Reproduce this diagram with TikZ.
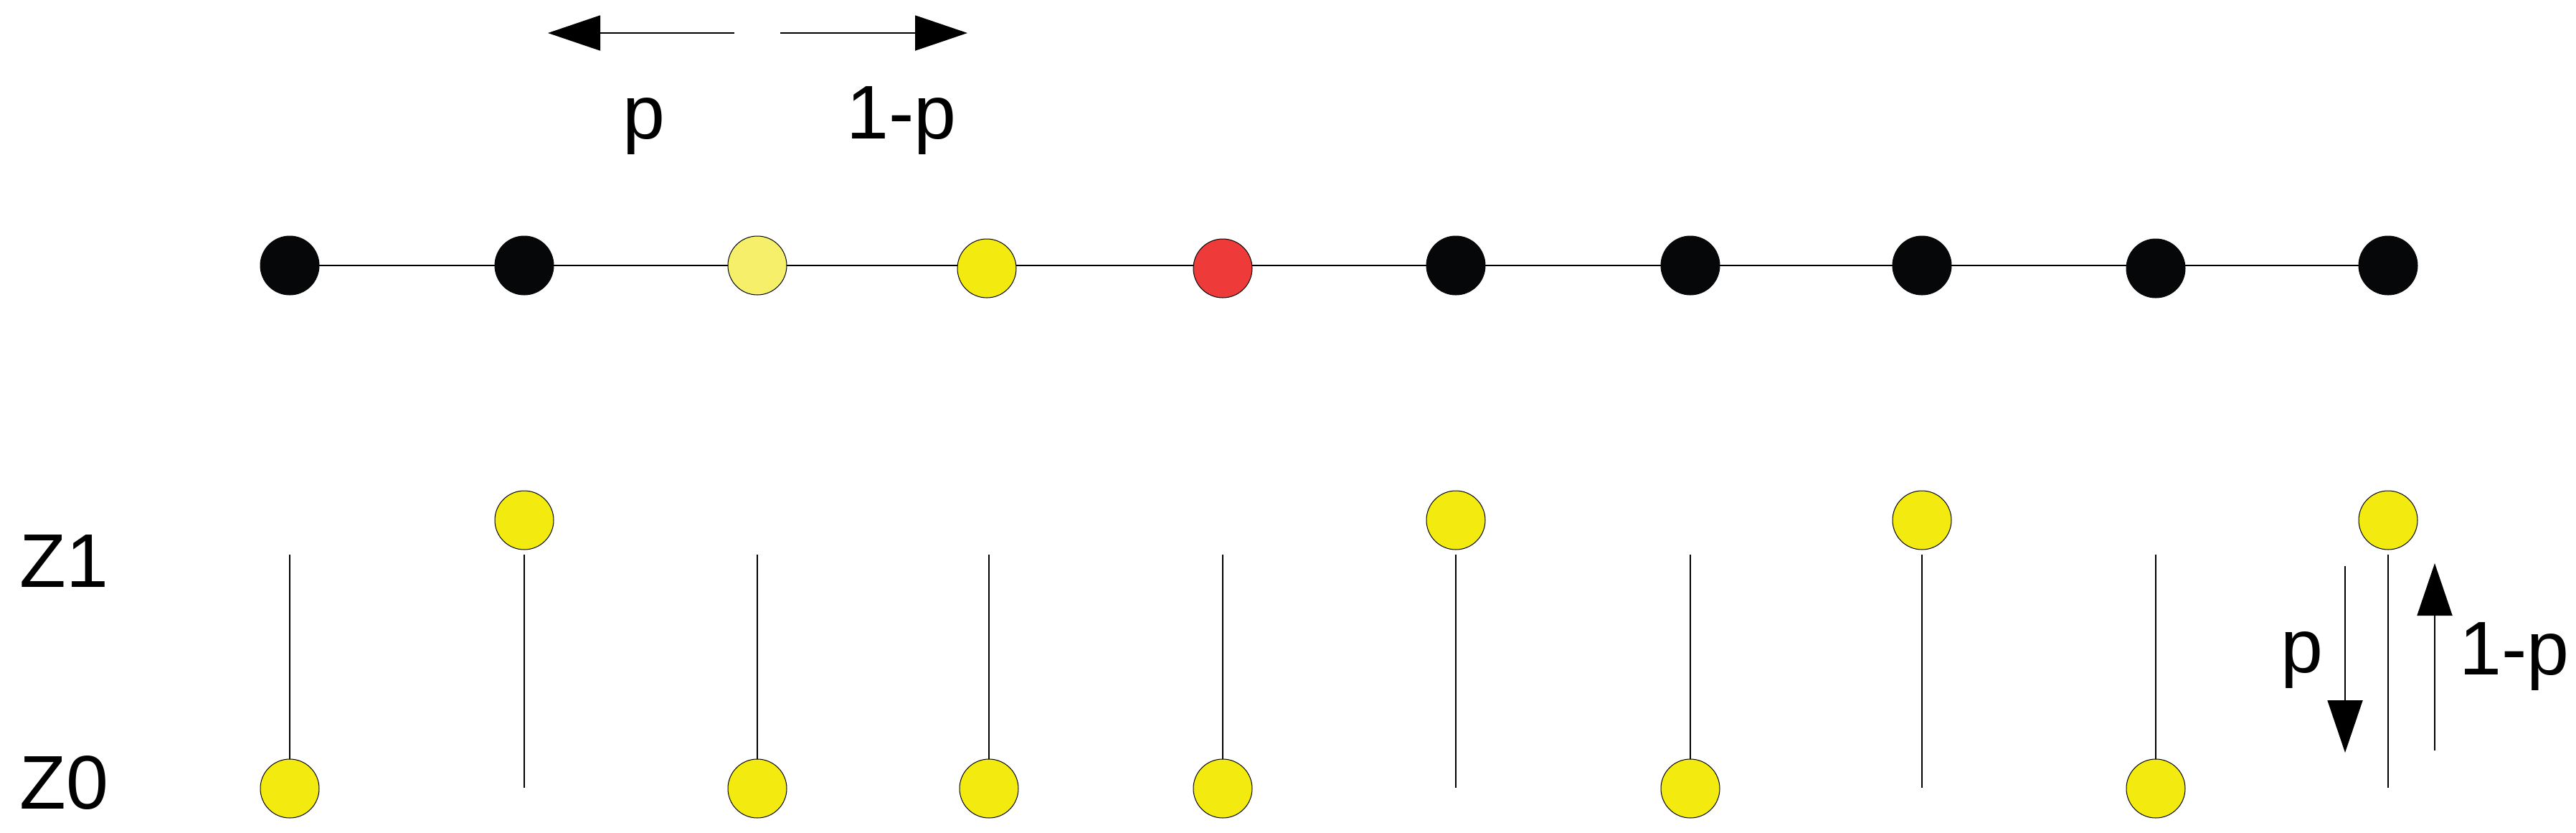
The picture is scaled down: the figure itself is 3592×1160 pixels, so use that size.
\documentclass[tikz,border=0pt]{standalone}
\usepackage{fontspec}
\setmainfont{Liberation Sans}
\usetikzlibrary{arrows.meta}
\pgfdeclarelayer{background}
\pgfsetlayers{background,main}
\definecolor{dotblack}{RGB}{6,7,9}
\definecolor{dotyellow}{RGB}{243,234,16}
\definecolor{dotlight}{RGB}{245,239,106}
\definecolor{dotred}{RGB}{239,58,58}
\tikzset{
  dot/.style={circle,draw=black,line width=0.25pt,minimum size=20.5pt,inner sep=0pt},
  bdot/.style={dot,fill=dotblack,draw=dotblack},
  ydot/.style={dot,fill=dotyellow},
  lbl/.style={font=\fontsize{26.5}{30}\selectfont,inner sep=0pt,anchor=base},
  thin line/.style={line width=0.45pt,draw=black},
  parrow/.style={line width=0.45pt,-{Triangle[length=18.25pt,width=12.25pt]}}
}
\begin{document}
\begin{tikzpicture}[x=0.25pt,y=-0.25pt]
\useasboundingbox (0,0) rectangle (3592,1160);
% top row
\node[bdot] (t0) at (404,370) {};
\node[bdot] (t1) at (731,370) {};
\node[dot,fill=dotlight] (t2) at (1056,370) {};
\node[dot,fill=dotyellow] (t3) at (1376,374) {};
\node[dot,fill=dotred] (t4) at (1705,374) {};
\node[bdot] (t5) at (2030,370) {};
\node[bdot] (t6) at (2357,370) {};
\node[bdot] (t7) at (2680,370) {};
\node[bdot] (t8) at (3006,374) {};
\node[bdot] (t9) at (3330,370) {};
\begin{pgfonlayer}{background}
\draw[thin line] (t0.center) -- (t9.center);
\end{pgfonlayer}
% top arrows
\coordinate (la) at (1024,46);
\coordinate (lt) at (764,46);
\coordinate (ra) at (1088,46);
\coordinate (rt) at (1349,46);
\draw[parrow] (la) -- (lt);
\draw[parrow] (ra) -- (rt);
\node[lbl] (pl) at (898,193) {p};
\node[lbl] (ql) at (1257,193) {1-p};
% row labels
\node[lbl,anchor=base west] (z1) at (27,818) {Z1};
\node[lbl,anchor=base west] (z0) at (27,1127) {Z0};
% Z0 columns
\foreach \n/\x in {0/404,2/1056,3/1379,4/1705,6/2357,8/3006}{
  \coordinate (c\n) at (\x,773);
  \node[ydot] (b\n) at (\x,1099) {};
  \draw[thin line] (c\n) -- (b\n);
}
% Z1 columns
\foreach \n/\x in {1/731,5/2030,7/2680,9/3330}{
  \node[ydot] (u\n) at (\x,725) {};
  \coordinate (c\n) at (\x,773);
  \coordinate (e\n) at (\x,1098);
  \draw[thin line] (c\n) -- (e\n);
}
% right arrows
\coordinate (da) at (3270,789);
\coordinate (dt) at (3270,1049);
\coordinate (ua) at (3395,1046);
\coordinate (ut) at (3395,785);
\draw[parrow] (da) -- (dt);
\draw[parrow] (ua) -- (ut);
\node[lbl] (pr) at (3210,937) {p};
\node[lbl] (qr) at (3506,940) {1-p};
\end{tikzpicture}
\end{document}
